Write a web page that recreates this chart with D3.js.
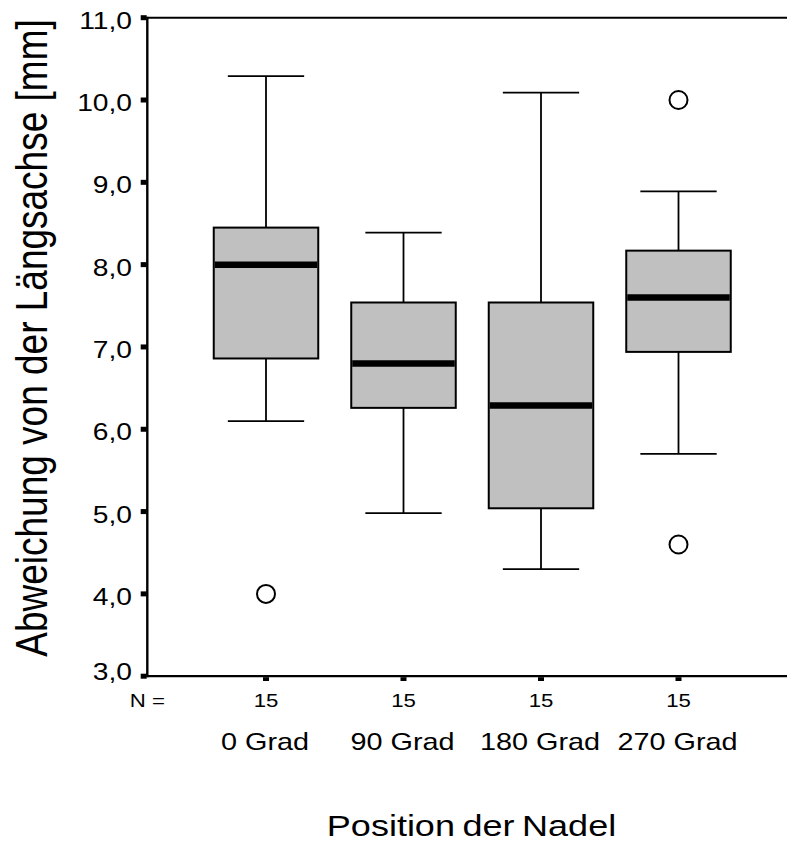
<!DOCTYPE html>
<html>
<head>
<meta charset="utf-8">
<script src="https://cdn.jsdelivr.net/npm/d3@7"></script>
<style>
  html, body { margin: 0; padding: 0; background: #fff; }
  svg { display: block; font-family: "Liberation Sans", Arial, sans-serif; }
</style>
</head>
<body>
<svg id="chart" width="787" height="841"></svg>
<script>
// ---- data ----
const categories   = ["0 Grad", "90 Grad", "180 Grad", "270 Grad"];
const nCounts      = [15, 15, 15, 15];
const whiskerLow   = [6.10, 4.98, 4.30, 5.70];
const q1           = [6.86, 6.26, 5.04, 6.94];
const medians      = [8.00, 6.80, 6.29, 7.60];
const q3           = [8.45, 7.54, 7.54, 8.17];
const whiskerHigh  = [10.29, 8.39, 10.09, 8.89];
const outlierCat   = ["0 Grad", "270 Grad", "270 Grad"];
const outlierVal   = [4.00, 10.00, 4.60];
const yTicks       = [3, 4, 5, 6, 7, 8, 9, 10, 11];
const yTitle       = "Abweichung von der Längsachse [mm]";
const xTitle       = "Position der Nadel";
const nLabel       = "N =";

(function () {
// ---- layout ----
const svg = d3.select("#chart");
const mLeft = 147.3, mRight = 787, mTop = 17.7, mBottom = 676.2;
const sx = 1.2; // horizontal glyph stretch of the original

const y = d3.scaleLinear().domain([3, 11]).range([mBottom, mTop]);
const x = d3.scalePoint().domain(categories).range([266, 678.5]);
const step = x.step();
const boxW = step * 0.76;
const capW = step * 0.555;

const locale = d3.formatLocale({decimal: ",", thousands: ".", grouping: [3], currency: ["", "€"]});
const fmt = locale.format(".1f");

const boxes = categories.map((c, i) => ({
  cat: c, lo: whiskerLow[i], q1: q1[i], med: medians[i], q3: q3[i], hi: whiskerHigh[i], n: nCounts[i]
}));

// frame: top line and bottom axis line
svg.append("line").attr("x1", mLeft).attr("x2", mRight).attr("y1", mTop).attr("y2", mTop)
  .attr("stroke", "#000").attr("stroke-width", 2);
svg.append("line").attr("x1", mLeft).attr("x2", mRight).attr("y1", mBottom).attr("y2", mBottom)
  .attr("stroke", "#000").attr("stroke-width", 2.2);
svg.append("line").attr("x1", mLeft).attr("x2", mLeft).attr("y1", mTop - 1).attr("y2", mBottom + 1)
  .attr("stroke", "#000").attr("stroke-width", 2.4);

// y ticks (small squares)
const yAxisG = svg.append("g");
yAxisG.selectAll("rect.yt").data(yTicks).join("rect")
  .attr("x", mLeft - 6.6).attr("width", 6).attr("y", d => y(d) - 2.5).attr("height", 5)
  .attr("fill", "#000");
yAxisG.selectAll("text.yl").data(yTicks).join("text")
  .attr("transform", d => `translate(132,${y(d) + (d === 3 ? 4 : 11)}) scale(${sx},1)`)
  .attr("text-anchor", "end")
  .attr("font-size", 23.5)
  .attr("fill", "#000")
  .text(d => fmt(d));

// x ticks (small squares below axis)
svg.selectAll("rect.xt").data(categories).join("rect")
  .attr("x", d => x(d) - 3).attr("width", 6).attr("y", mBottom + 1).attr("height", 3.8)
  .attr("fill", "#000");

// boxes
const g = svg.append("g");
const bx = g.selectAll("g.box").data(boxes).join("g");
bx.append("line").attr("x1", d => x(d.cat)).attr("x2", d => x(d.cat))
  .attr("y1", d => y(d.hi)).attr("y2", d => y(d.q3)).attr("stroke", "#000").attr("stroke-width", 1.8);
bx.append("line").attr("x1", d => x(d.cat)).attr("x2", d => x(d.cat))
  .attr("y1", d => y(d.q1)).attr("y2", d => y(d.lo)).attr("stroke", "#000").attr("stroke-width", 1.8);
bx.append("line").attr("x1", d => x(d.cat) - capW / 2).attr("x2", d => x(d.cat) + capW / 2)
  .attr("y1", d => y(d.hi)).attr("y2", d => y(d.hi)).attr("stroke", "#000").attr("stroke-width", 1.8);
bx.append("line").attr("x1", d => x(d.cat) - capW / 2).attr("x2", d => x(d.cat) + capW / 2)
  .attr("y1", d => y(d.lo)).attr("y2", d => y(d.lo)).attr("stroke", "#000").attr("stroke-width", 1.8);
bx.append("rect")
  .attr("x", d => x(d.cat) - boxW / 2).attr("width", boxW)
  .attr("y", d => y(d.q3)).attr("height", d => y(d.q1) - y(d.q3))
  .attr("fill", "#c0c0c0").attr("stroke", "#000").attr("stroke-width", 2);
bx.append("line").attr("x1", d => x(d.cat) - boxW / 2 + 1).attr("x2", d => x(d.cat) + boxW / 2 - 1)
  .attr("y1", d => y(d.med)).attr("y2", d => y(d.med)).attr("stroke", "#000").attr("stroke-width", 6.5);

// outliers
g.selectAll("circle.out").data(outlierVal.map((v, i) => ({cat: outlierCat[i], v}))).join("circle")
  .attr("cx", d => x(d.cat)).attr("cy", d => y(d.v)).attr("r", 9)
  .attr("fill", "#fff").attr("stroke", "#000").attr("stroke-width", 2);

// N row
svg.append("text").attr("transform", `translate(${mLeft},707) scale(${sx},1)`)
  .attr("text-anchor", "middle").attr("font-size", 18.5).text(nLabel);
svg.selectAll("text.n").data(boxes).join("text")
  .attr("transform", d => `translate(${x(d.cat)},707) scale(${sx},1)`)
  .attr("text-anchor", "middle").attr("font-size", 18.5).text(d => d.n);

// category labels
svg.selectAll("text.cat").data(categories).join("text")
  .attr("transform", d => `translate(${x(d) - 1},750) scale(${sx},1)`)
  .attr("text-anchor", "middle").attr("font-size", 24).text(d => d);

// x title
svg.append("text").attr("transform", `translate(471.5,836) scale(${sx},1)`)
  .attr("text-anchor", "middle").attr("font-size", 30).attr("word-spacing", -2).text(xTitle);

// y title
svg.append("text").attr("transform", `translate(47,338) rotate(-90) scale(1,${sx})`)
  .attr("text-anchor", "middle").attr("font-size", 37).text(yTitle);
})();
</script>
</body>
</html>
